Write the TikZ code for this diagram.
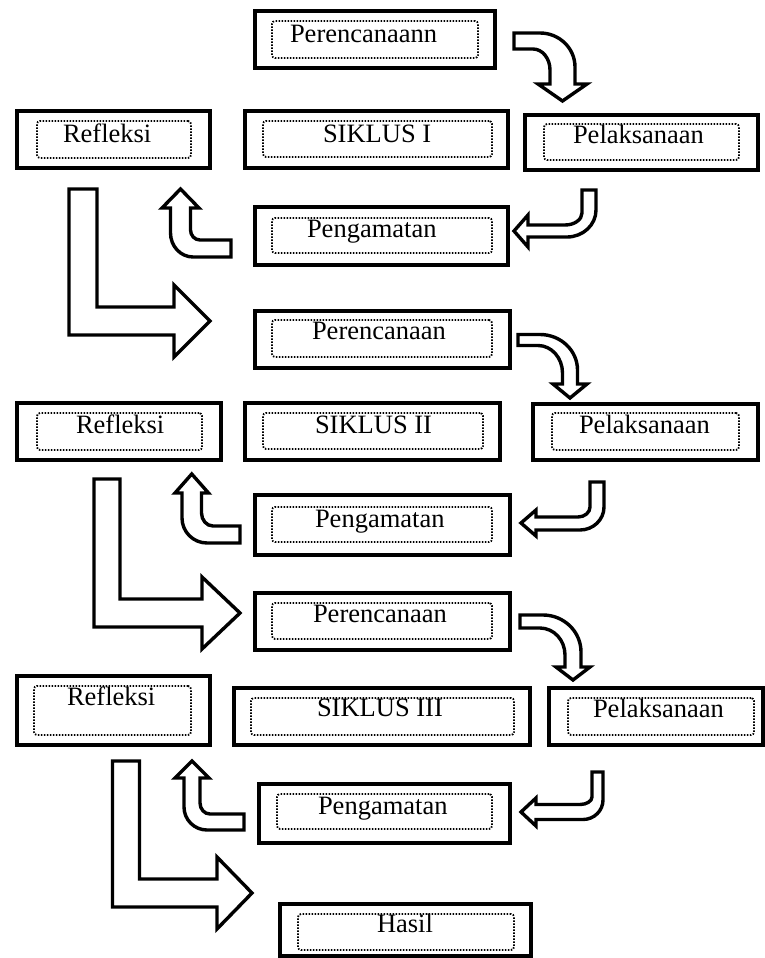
\documentclass[tikz,border=0pt]{standalone}
\usepackage{fontspec}
\setmainfont{Liberation Serif}
\usetikzlibrary{fit}
\tikzset{
  obox/.style={draw=black, line width=3.6pt, inner sep=0pt, outer sep=0pt, fill=white},
  ibox/.style={draw=black, line width=1.8pt, dash pattern=on 1.5pt off 1.5pt, rounded corners=3pt, inner sep=0pt, outer sep=0pt},
  lbl/.style={anchor=base west, inner sep=0pt, outer sep=0pt, font=\fontsize{26.5}{30}\selectfont},
  barrow/.style={draw=black, line width=3.4pt, fill=white, line join=miter}
}
\newcommand{\diabox}[9]{%
  \node[obox, fit={(#2,#3) (#4,#5)}] (#1) {};
  \node[ibox, fit={(#6,#7) (#8,#9)}] (#1-in) {};
}
\begin{document}
\begin{tikzpicture}[x=1pt,y=-1pt]
\useasboundingbox (0,0) rectangle (765,958);
\fill[white] (0,0) rectangle (765,958);

% ---------- Cycle I ----------
\diabox{p1}{255}{11}{495}{68}{272}{21}{478}{58}
\node[lbl] (p1t) at (290,42.5) {Perencanaann};
\diabox{r1}{17}{111}{210}{168}{37}{121}{191}{158}
\node[lbl] (r1t) at (63,142.5) {Refleksi};
\diabox{s1}{245}{111}{508}{168}{263}{121}{492}{157}
\node[lbl] (s1t) at (323,142.5) {SIKLUS I};
\diabox{l1}{525}{115}{758}{170}{544}{124}{739}{160}
\node[lbl] (l1t) at (573,143) {Pelaksanaan};
\diabox{g1}{255}{207}{508}{265}{272}{218}{492}{253}
\node[lbl] (g1t) at (307,237) {Pengamatan};

% curved arrow P1 -> L1
\draw[barrow] (514,33) -- (540,33) .. controls (559.3,33) and (575,48.2) .. (575,67)
  -- (575,84) -- (587,84) -- (562.5,101) -- (538,84) -- (550,84) -- (550,70)
  .. controls (550,58.4) and (542.4,49) .. (533,49) -- (514,49) -- cycle;
% J arrow L1 -> G1
\draw[barrow] (582,190) -- (596,190) -- (596,210) .. controls (596,224.9) and (583,237) .. (567,237)
  -- (528,237) -- (528,247) -- (514,231) -- (528,215) -- (528,225) -- (565,225)
  .. controls (574.4,225) and (582,219.6) .. (582,213) -- cycle;
% up arrow G1 -> R1
\draw[barrow] (231,240) -- (231,257) -- (193,257) .. controls (180.6,257) and (170.5,246.2) .. (170.5,233)
  -- (170.5,208) -- (162,208) -- (180.5,189) -- (199,208) -- (190.5,208) -- (190.5,230)
  .. controls (190.5,235.5) and (194.8,240) .. (200,240) -- cycle;
% big L arrow R1 -> P2
\draw[barrow] (69,189) -- (97,189) -- (97,307) -- (174,307) -- (174,285) -- (210,321)
  -- (174,357) -- (174,335) -- (69,335) -- cycle;

% ---------- Cycle II ----------
\diabox{p2}{255}{311}{510}{368}{272}{320}{492}{357}
\node[lbl] (p2t) at (312,339.5) {Perencanaan};
\diabox{r2}{17}{403}{221}{460}{37}{413}{202}{450}
\node[lbl] (r2t) at (76,433) {Refleksi};
\diabox{s2}{245}{403}{500}{460}{263}{413}{483}{449}
\node[lbl] (s2t) at (315,433) {SIKLUS II};
\diabox{l2}{533}{404}{758}{460}{552}{413}{739}{450}
\node[lbl] (l2t) at (579,433) {Pelaksanaan};
\diabox{g2}{255}{495}{510}{555}{272}{507}{492}{542}
\node[lbl] (g2t) at (315,527.5) {Pengamatan};

\draw[barrow] (518,334.5) -- (540,334.5) .. controls (560.7,334.5) and (577.5,350.4) .. (577.5,370)
  -- (577.5,384) -- (587,384) -- (570,398) -- (553,384) -- (562.5,384) -- (562.5,373)
  .. controls (562.5,357.8) and (551.5,345.5) .. (538,345.5) -- (518,345.5) -- cycle;
\draw[barrow] (590,482) -- (604,482) -- (604,507) .. controls (604,519.7) and (593.2,530) .. (580,530)
  -- (536,530) -- (536,536) -- (521,523) -- (536,510) -- (536,517) -- (578,517)
  .. controls (584.6,517) and (590,512.5) .. (590,507) -- cycle;
\draw[barrow] (240,526) -- (240,543) -- (207,543) .. controls (193.2,543) and (182,531.8) .. (182,518)
  -- (182,493) -- (175,493) -- (191.75,474) -- (208.5,493) -- (201.5,493) -- (201.5,513)
  .. controls (201.5,520.2) and (206.7,526) .. (213,526) -- cycle;
\draw[barrow] (94,479) -- (120,479) -- (120,599) -- (202,599) -- (202,577) -- (240,613)
  -- (202,649) -- (202,627) -- (94,627) -- cycle;

% ---------- Cycle III ----------
\diabox{p3}{255}{593}{510}{650}{272}{603}{492}{639}
\node[lbl] (p3t) at (313,622.5) {Perencanaan};
\diabox{r3}{17}{676}{210}{745}{34}{686}{191}{735}
\node[lbl] (r3t) at (67,705.5) {Refleksi};
\diabox{s3}{234}{688}{530}{745}{251}{698}{514}{735}
\node[lbl] (s3t) at (317,716.5) {SIKLUS III};
\diabox{l3}{549}{688}{763}{745}{568}{698}{754}{735}
\node[lbl] (l3t) at (593,717.5) {Pelaksanaan};
\diabox{g3}{259}{784}{510}{843}{277}{794}{492}{829}
\node[lbl] (g3t) at (318,814) {Pengamatan};
\diabox{h}{280}{904}{531}{956}{298}{914}{514}{950}
\node[lbl] (ht) at (377,932.5) {Hasil};

\draw[barrow] (520,615) -- (543,615) .. controls (564,615) and (581,631.6) .. (581,652)
  -- (581,667) -- (590,667) -- (573,680) -- (556,667) -- (565,667) -- (565,655)
  .. controls (565,640.1) and (553.8,628) .. (540,628) -- (520,628) -- cycle;
\draw[barrow] (592,772) -- (603,772) -- (603,800) .. controls (603,810.8) and (594,819.5) .. (583,819.5)
  -- (536,819.5) -- (536,826) -- (521,812) -- (536,798) -- (536,804.5) -- (580,804.5)
  .. controls (586.6,804.5) and (592,801.1) .. (592,797) -- cycle;
\draw[barrow] (244,814) -- (244,830) -- (207,830) .. controls (194.3,830) and (184,819.7) .. (184,807)
  -- (184,778) -- (175,778) -- (192,761) -- (209,778) -- (200,778) -- (200,803)
  .. controls (200,809.1) and (204.5,814) .. (210,814) -- cycle;
\draw[barrow] (112.5,761) -- (139.5,761) -- (139.5,879) -- (217,879) -- (217,857) -- (252,893)
  -- (217,929) -- (217,907) -- (112.5,907) -- cycle;
\end{tikzpicture}
\end{document}
